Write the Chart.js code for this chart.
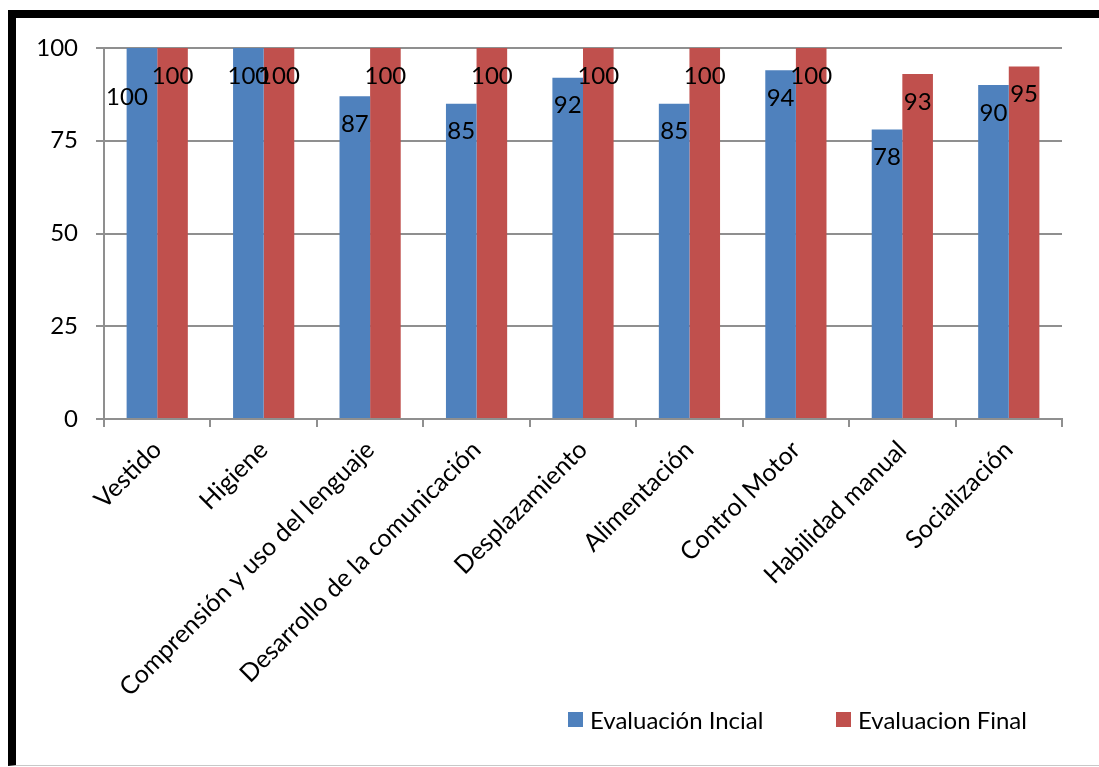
<!DOCTYPE html>
<html>
<head>
<meta charset="utf-8">
<script src="https://cdn.jsdelivr.net/npm/chart.js@4/dist/chart.umd.min.js"></script>
<style>
body { margin: 0; background: #fff; width: 1099px; height: 767px; overflow: hidden; position: relative; font-family: Lato, sans-serif; }
#frame { position: absolute; left: 8px; top: 10px; width: 1200px; height: 747px; border-left: 8px solid #000; border-top: 8px solid #000; border-bottom: 1px solid #c8c8c8; }
#chart { position: absolute; left: 16px; top: 18px; }
#legend { position: absolute; left: 568px; top: 705px; display: flex; font-size: 24px; color: #000; }
#legend .item { display: flex; align-items: center; width: 268px; }
#legend .box { width: 15px; height: 15px; margin-right: 7px; }
</style>
</head>
<body>
<div id="frame"></div>
<canvas id="chart" width="1083" height="746"></canvas>
<div id="legend"></div>
<script>
var categories = [
    "Vestido",
    "Higiene",
    "Comprensión y uso del lenguaje",
    "Desarrollo de la comunicación",
    "Desplazamiento",
    "Alimentación",
    "Control Motor",
    "Habilidad manual",
    "Socialización"
];
var evalInicial = [100, 100, 87, 85, 92, 85, 94, 78, 90];
var evalFinal = [100, 100, 100, 100, 100, 100, 100, 93, 95];
var seriesNames = ["Evaluación Incial", "Evaluacion Final"];
var yTicks = [0, 25, 50, 75, 100];

// the first label sits lower/left in the original
var movedLabel = {dataset: 0, index: 0, dx: -15, dy: 21};

var gridColor = "#8f8f8f";

Chart.defaults.font.family = "Lato";
Chart.defaults.font.size = 24;
Chart.defaults.color = "#000";

var barLabels = {
    id: "barLabels",
    afterDatasetsDraw: function(chart) {
        var ctx = chart.ctx;
        ctx.save();
        ctx.font = "24px Lato";
        ctx.fillStyle = "#000";
        ctx.textAlign = "center";
        ctx.textBaseline = "middle";
        chart.data.datasets.forEach(function(ds, i) {
            chart.getDatasetMeta(i).data.forEach(function(bar, j) {
                var x = bar.x;
                var y = bar.y + 28;
                if (i == movedLabel.dataset && j == movedLabel.index) {
                    x += movedLabel.dx;
                    y += movedLabel.dy;
                }
                ctx.fillText(ds.data[j], x, y);
            });
        });
        ctx.restore();
    }
};

var chart = new Chart(document.getElementById("chart"), {
    type: "bar",
    data: {
        labels: categories,
        datasets: [{
            label: seriesNames[0],
            data: evalInicial,
            backgroundColor: "#4f81bd",
            categoryPercentage: 0.575,
            barPercentage: 1
        }, {
            label: seriesNames[1],
            data: evalFinal,
            backgroundColor: "#c0504d",
            categoryPercentage: 0.575,
            barPercentage: 1
        }]
    },
    options: {
        responsive: false,
        animation: false,
        devicePixelRatio: 1,
        layout: {padding: {left: 0, top: 30, right: 37, bottom: 0}},
        plugins: {
            legend: {display: false},
            tooltip: {enabled: false}
        },
        scales: {
            x: {
                grid: {offset: true, drawOnChartArea: false, tickLength: 8, color: gridColor, lineWidth: 2},
                border: {color: gridColor, width: 2},
                ticks: {minRotation: 45, maxRotation: 45, autoSkip: false, padding: 8, font: {size: 25}},
                afterFit: function(scale) { scale.height = 345; }
            },
            y: {
                min: 0,
                max: 100,
                afterBuildTicks: function(scale) {
                    scale.ticks = yTicks.map(function(v) { return {value: v}; });
                },
                grid: {tickLength: 8, color: gridColor, lineWidth: 2},
                border: {color: gridColor, width: 2},
                ticks: {padding: 18, font: {size: 24}},
                afterFit: function(scale) {
                    scale.width = 88;
                    scale.paddingTop = 0;
                    scale.paddingBottom = 0;
                }
            }
        }
    },
    plugins: [barLabels]
});

// legend built from the datasets
var legend = document.getElementById("legend");
chart.data.datasets.forEach(function(ds) {
    var item = document.createElement("div");
    item.className = "item";
    item.innerHTML = '<span class="box" style="background:' + ds.backgroundColor + '"></span><span>' + ds.label + '</span>';
    legend.appendChild(item);
});
</script>
</body>
</html>
